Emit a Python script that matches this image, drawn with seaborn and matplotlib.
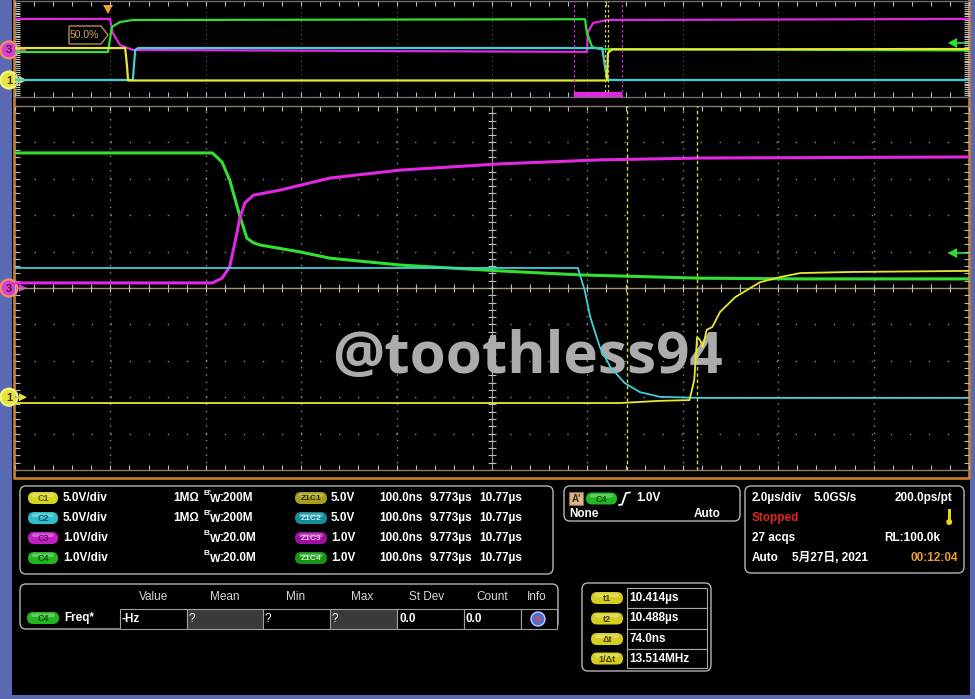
import numpy as np
import pandas as pd
import matplotlib
matplotlib.use("Agg")
import matplotlib.pyplot as plt
import seaborn as sns
from matplotlib.patches import FancyBboxPatch, Rectangle, Circle, Polygon

sns.set_style("dark", {"axes.facecolor": "black", "figure.facecolor": "black"})
plt.rcParams['font.family'] = ['Liberation Sans', 'Noto Sans CJK JP', 'DejaVu Sans']

# ---- zoom window (main panel): time in ns from zoom start, level in divisions ----
C4_T = [0, 207, 217, 225, 236, 243, 250, 257, 299, 330, 404, 508, 592, 718, 823, 1000]
C4_V = [3.71, 3.71, 3.46, 2.97, 1.95, 1.37, 1.24, 1.18, 0.99, 0.82, 0.63, 0.47, 0.36, 0.27, 0.25, 0.25]
C3_T = [0, 207, 217, 225, 230, 236, 241, 250, 278, 330, 404, 508, 613, 718, 1000]
C3_V = [0.14, 0.14, 0.27, 0.58, 1.18, 1.95, 2.34, 2.55, 2.69, 3.02, 3.24, 3.41, 3.52, 3.57, 3.60]
C2_T = [0, 590, 597, 603, 613, 624, 639, 655, 676, 718, 1000]
C2_V = [0.55, 0.55, -0.05, -0.80, -1.62, -2.17, -2.61, -2.86, -2.99, -3.02, -3.02]
C1_T = [0, 634, 655, 676, 707, 712, 715, 718, 721, 725, 731, 739, 755, 781, 802, 823, 875, 1000]
C1_V = [-3.16, -3.16, -3.13, -3.10, -3.08, -2.53, -1.35, -1.43, -1.62, -1.15, -1.07, -0.66,
        -0.25, 0.16, 0.30, 0.41, 0.44, 0.47]

# ---- overview record: time in us, level in divisions ----
OV_C4_T = [-1.95, 0.0, 0.08, 0.25, 0.52, 10.00, 10.04, 10.15, 10.31, 18.05]
OV_C4_V = [-0.31, -0.31, 2.29, 2.81, 3.02, 3.10, 1.67, 0.21, 0.0, -0.15]
OV_C3_T = [-1.95, 0.04, 0.10, 0.25, 0.52, 10.04, 10.06, 10.17, 10.46, 18.05]
OV_C3_V = [3.13, 3.13, 1.67, 0.42, -0.10, -0.30, 1.77, 2.71, 3.02, 3.13]
OV_C2_T = [-1.95, 0.52, 0.57, 0.63, 10.36, 10.42, 10.46, 10.52, 18.05]
OV_C2_V = [-3.23, -3.23, -0.10, 0.10, 0.10, -1.87, -3.02, -3.23, -3.23]
OV_C1_T = [-1.95, 0.36, 0.40, 0.42, 10.46, 10.48, 10.57, 18.05]
OV_C1_V = [0.10, 0.10, -1.87, -3.28, -3.28, -0.42, -0.05, 0.0]

ZOOM_START, ZOOM_END = 9.773, 10.773   # us
T1, T2 = 10.414, 10.488                 # us
TRIG_POS = 0.0
CH3_GND, CH1_GND = 0.0, -3.0            # main, divisions
OV_CH3_GND, OV_CH1_GND = -0.10, -3.23
TRIG_LEVEL, OV_TRIG_LEVEL = 0.96, 0.63

# ---- info panel texts ----
CH_NAMES = ['C1', 'C2', 'C3', 'C4']
CH_SCALE = ['5.0V/div', '5.0V/div', '1.0V/div', '1.0V/div']
CH_IMP = ['1MΩ', '1MΩ', '', '']
CH_BW = ['200M', '200M', '20.0M', '20.0M']
Z_SCALE = ['5.0V', '5.0V', '1.0V', '1.0V']
Z_TIME, Z_POS, Z_END = '100.0ns', '9.773µs', '10.77µs'
MEAS_HEAD = ['Value', 'Mean', 'Min', 'Max', 'St Dev', 'Count', 'Info']
MEAS_VALS = ['-Hz', '?', '?', '?', '0.0', '0.0']
CUR_NAMES = ['t1', 't2', 'Δt', '1/Δt']
CUR_VALS = ['10.414µs', '10.488µs', '74.0ns', '13.514MHz']

YEL, CYA, MAG, GRN = '#e8e830', '#3fd0de', '#e228e2', '#32e032'
BLUE, ORANGE = '#5a6ab2', '#c47a2c'
TICK, GRIDC = '#bcbcbc', '#8a8a8a'
BADGE = {'C1': ('#d8d41e', '#5c5a08'), 'C2': ('#2fbccb', '#0c5a66'),
         'C3': ('#c21ec2', '#6a0c6a'), 'C4': ('#22b622', '#0c520c')}
ZBADGE = {'C1': ('#a89e1c', '#302c00'), 'C2': ('#168c9a', '#bff0f4'),
          'C3': ('#a010a0', '#f4b8f4'), 'C4': ('#179417', '#c4f4c4')}

W, H = 975, 699
fig = plt.figure(figsize=(W / 100, H / 100), dpi=100)
fig.patch.set_facecolor(BLUE)
bg = fig.add_axes([0, 0, 1, 1])
bg.set_xlim(0, W)
bg.set_ylim(H, 0)
bg.axis('off')
bg.add_patch(Rectangle((12, 0), 958, 695, fc='black', ec='none', zorder=0))
bg.plot([13.5, 13.5, 969, 969], [-2, 478, 478, -2], color=ORANGE, lw=2, zorder=1)


def px_axes(x0, y0, x1, y1):
    a = fig.add_axes([x0 / W, 1 - y1 / H, (x1 - x0) / W, (y1 - y0) / H])
    a.set_facecolor('none')
    return a


MX0, MY0, MX1, MY1 = 15, 106, 969, 470
OX0, OY0, OX1, OY1 = 15, 1, 969, 97
main = px_axes(MX0, MY0, MX1, MY1)
over = px_axes(OX0, OY0, OX1, OY1)


def main_y(v):
    return MY0 + (5 - v) / 10 * (MY1 - MY0)


def ov_y(v):
    return OY0 + (5 - v) / 10 * (OY1 - OY0)


def ov_x(t):
    return OX0 + (t + 1.95) / 20 * (OX1 - OX0)


def style_axes(a, xlim, xmaj, xmin, spine_color):
    a.set_xlim(*xlim)
    a.set_ylim(-5, 5)
    a.set_xticks(xmaj)
    a.set_xticks(xmin, minor=True)
    a.set_yticks(np.arange(-5, 6, 1))
    a.set_yticks(np.arange(-5, 5.01, 0.2), minor=True)
    a.tick_params(which='both', direction='in', length=3.5, width=0.8, color=TICK,
                  bottom=True, top=True, left=True, right=True,
                  labelbottom=False, labelleft=False)
    for s in ['left', 'right']:
        a.spines[s].set_visible(False)
    for s in ['top', 'bottom']:
        a.spines[s].set_color(spine_color)
        a.spines[s].set_linewidth(1)
    a.set_xlabel('')
    a.set_ylabel('')


style_axes(main, (0, 1000), np.arange(0, 1001, 100), np.arange(0, 1001, 20), '#8a7e68')
main.grid(axis='x', which='major', color=GRIDC, lw=1, linestyle=(0, (1, 4.25)))
main.grid(axis='y', which='major', color=GRIDC, lw=1, linestyle=(0, (1, 12.7)))
main.axhline(0, color='#a39478', lw=1, zorder=1)
main.axvline(500, color='#9a9a9a', lw=0.8, zorder=1)
main.hlines(np.arange(-5, 5.01, 0.2), 495.8, 504.2, color=TICK, lw=0.8, zorder=1)
main.vlines(np.arange(0, 1001, 20), -0.11, 0.11, color=TICK, lw=0.8, zorder=1)

style_axes(over, (-1.95, 18.05), np.arange(-1.95, 18.1, 2), np.arange(-1.95, 18.1, 0.4), '#6e6e6e')
over.grid(axis='x', which='major', color='#5a5a5a', lw=0.8, linestyle=(0, (1, 3)))

# watermark under the traces
main.text(527, 373, '@toothless94', transform=bg.transData, ha='center', va='baseline',
          fontsize=42, weight='bold', family=['Open Sans', 'Roboto', 'Lato', 'DejaVu Sans'],
          color='#acacac', zorder=1.5, clip_on=False)

# traces
for t, v, c, lw in [(C4_T, C4_V, GRN, 2.2), (C3_T, C3_V, MAG, 2.2),
                    (C2_T, C2_V, CYA, 1.3), (C1_T, C1_V, YEL, 1.3)]:
    df = pd.DataFrame({'t': t, 'v': v})
    sns.lineplot(data=df, x='t', y='v', ax=main, color=c, lw=lw, estimator=None, sort=False, zorder=3)
for t, v, c in [(OV_C3_T, OV_C3_V, MAG), (OV_C4_T, OV_C4_V, GRN),
                (OV_C2_T, OV_C2_V, CYA), (OV_C1_T, OV_C1_V, YEL)]:
    df = pd.DataFrame({'t': t, 'v': v})
    sns.lineplot(data=df, x='t', y='v', ax=over, color=c, lw=1.6, estimator=None, sort=False, zorder=3)
for a in (main, over):
    a.set_xlabel('')
    a.set_ylabel('')

# cursors and zoom window
for tc in (T1, T2):
    main.axvline((tc - ZOOM_START) * 1000, color='#d6d63c', lw=1, linestyle=(0, (2.5, 2)), zorder=4)
    over.axvline(tc, color='#d6d63c', lw=0.9, linestyle=(0, (2, 2)), zorder=4)
for tz in (ZOOM_START, ZOOM_END):
    over.axvline(tz, color=MAG, lw=0.9, linestyle=(0, (2, 2)), zorder=4)
over.axvspan(ZOOM_START, ZOOM_END, ymin=0, ymax=0.055, color=MAG, lw=0, zorder=4)

# trigger marker + 50% label
tx = ov_x(TRIG_POS)
bg.add_patch(Polygon([[tx - 5, 5], [tx + 5, 5], [tx, 14]], fc='#f0a030', ec='none', zorder=10))
bg.add_patch(Polygon([[69, 26], [101, 26], [108, 35], [101, 44], [69, 44]],
                     fc='black', ec='#b88c50', lw=1, zorder=10))
bg.text(84, 35.5, '50.0%', ha='center', va='center', fontsize=7.5, color='#d2a468', zorder=11)


def ground_marker(y, num, fill, ring):
    bg.plot([14, 24], [y, y], color=fill, lw=1, zorder=20)
    bg.add_patch(Polygon([[19, y - 4], [27, y], [19, y + 4]], fc=fill, ec='none', zorder=20))
    bg.add_patch(Circle((9, y), 8.5, fc=fill, ec=ring, lw=1.6, zorder=21))
    bg.text(9, y + 0.5, num, ha='center', va='center', fontsize=8, color='#3a2a2a',
            weight='bold', zorder=22)


def trig_arrow(y):
    bg.add_patch(Polygon([[948, y], [957, y - 5], [957, y + 5]], fc=GRN, ec='none', zorder=20))
    bg.plot([955, 969], [y, y], color=GRN, lw=1.2, zorder=20)


ground_marker(main_y(CH3_GND), '3', '#dc3ad8', '#f09060')
ground_marker(main_y(CH1_GND), '1', '#e6e632', '#f4f488')
ground_marker(ov_y(OV_CH3_GND), '3', '#dc3ad8', '#f09060')
ground_marker(ov_y(OV_CH1_GND), '1', '#e6e632', '#f4f488')
trig_arrow(main_y(TRIG_LEVEL))
trig_arrow(ov_y(OV_TRIG_LEVEL))


# ---- info panels ----
def box(x0, y0, x1, y1, r=6):
    bg.add_patch(FancyBboxPatch((x0, y0), x1 - x0, y1 - y0,
                                boxstyle=f"round,pad=0,rounding_size={r}",
                                fc='black', ec='#b4b4b4', lw=1, zorder=2))


def txt(x, y, s, color='white', size=8.5, weight='bold', ha='left', **kw):
    bg.text(x, y, s, color=color, fontsize=size, weight=weight, ha=ha, va='center', zorder=6, **kw)


def badge(x0, y, w, fill, tcol, label, h=12, fs=6.5):
    bg.add_patch(FancyBboxPatch((x0, y - h / 2), w, h,
                                boxstyle=f"round,pad=0,rounding_size={h / 2}",
                                fc=fill, ec='none', zorder=4))
    bg.add_patch(FancyBboxPatch((x0 + 4, y - h / 2 + 1.5), w - 8, h * 0.3,
                                boxstyle=f"round,pad=0,rounding_size={h * 0.15}",
                                fc='white', ec='none', alpha=0.3, zorder=4.5))
    bg.text(x0 + w / 2, y + 0.5, label, ha='center', va='center', fontsize=fs,
            color=tcol, weight='bold', zorder=6)


# channel panel
box(20, 486, 553, 574)
for i, name in enumerate(CH_NAMES):
    y = 498 + 20 * i
    badge(28, y, 30, *BADGE[name], name)
    txt(63, y, CH_SCALE[i])
    if CH_IMP[i]:
        txt(173, y, CH_IMP[i])
    txt(203, y - 4.5, 'B' + ("'" if i < 2 else ''), size=6)
    txt(209.5, y + 1.5, 'W', size=8)
    txt(220, y, ':' + CH_BW[i])
    badge(295, y, 32, *ZBADGE[name], 'Z1' + name, fs=6)
    txt(331, y, Z_SCALE[i])
    txt(379, y, Z_TIME)
    txt(430, y, Z_POS)
    txt(479, y, Z_END)

# trigger panel
box(564, 486, 740, 521)
bg.add_patch(Rectangle((569, 492), 14, 13, fc='#d6b68a', ec='#8a6a40', lw=0.8, zorder=4))
txt(576, 498.5, "A'", color='#3a2a10', size=7, ha='center')
badge(586, 498.5, 31, *BADGE['C4'], 'C4')
bg.plot([619, 622, 626, 630], [505, 504.5, 493, 492.5], color='white', lw=1.3, zorder=6)
txt(636, 498, '1.0V')
txt(569, 514, 'None')
txt(721, 514, 'Auto', ha='right')

# timebase panel
box(745, 486, 964, 573)
txt(752, 498, '2.0µs/div')
txt(814, 498, '5.0GS/s')
txt(952, 498, '200.0ps/pt', ha='right')
txt(752, 518, 'Stopped', color='#e02424')
bg.add_patch(Rectangle((947.5, 509), 3.5, 11, fc='#e8d020', ec='none', zorder=5))
bg.add_patch(Circle((949.2, 522), 3, fc='#e8d020', ec='none', zorder=5))
txt(752, 538, '27 acqs')
txt(940, 538, 'RL:100.0k', ha='right')
txt(752, 558, 'Auto')
txt(792, 558, '5月27日, 2021')
txt(958, 558, '00:12:04', ha='right', color='#e8a030')

# measurement panel
box(20, 584, 558, 629)
for head, xc in zip(MEAS_HEAD, [154, 225, 296, 362, 427, 492, 537]):
    txt(xc, 597, head, ha='center', weight='normal', color='#d8d8d8')
badge(27, 618, 32, *BADGE['C4'], 'C4')
txt(64, 618, 'Freq*')
edges = [120, 187, 263, 330, 397, 464, 521, 557]
for i in range(7):
    shade = '#3a3a3a' if i in (1, 3) else 'black'
    bg.add_patch(Rectangle((edges[i], 609), edges[i + 1] - edges[i], 20, fc=shade,
                           ec='#a0a0a0', lw=0.8, zorder=3))
    if i < 6:
        txt(edges[i] + 2, 619, MEAS_VALS[i], weight='normal' if MEAS_VALS[i] == '?' else 'bold')
bg.add_patch(Circle((538, 619), 7, fc='#4a72d4', ec='#c0d0f8', lw=1, zorder=5))
bg.add_patch(Circle((538, 619), 2.8, fc='#d04a7a', ec='none', zorder=6))

# cursor panel
box(582, 583, 711, 671)
rows = [588, 608, 629, 649, 668]
for i, (name, val) in enumerate(zip(CUR_NAMES, CUR_VALS)):
    bg.add_patch(Rectangle((627, rows[i]), 80, rows[i + 1] - rows[i], fc='black',
                           ec='#a8a8a8', lw=0.8, zorder=3))
    yc = (rows[i] + rows[i + 1]) / 2
    badge(591, yc, 32, '#d4cc1e', '#4a4600', name, fs=6.5)
    txt(629, yc, val)

fig.savefig('out.png', dpi=100, facecolor=fig.get_facecolor())
